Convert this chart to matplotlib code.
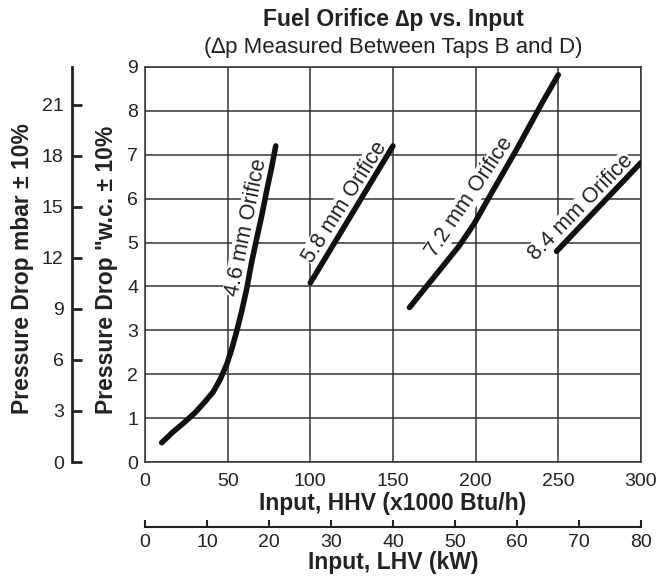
import matplotlib
matplotlib.use("Agg")
import matplotlib.pyplot as plt

plt.rcParams["font.family"] = ["Liberation Sans", "DejaVu Sans"]

# curves: input HHV (x1000 Btu/h) vs pressure drop ("w.c.)
orifice_46_x = [10.1, 17.1, 23.1, 30.2, 36.2, 41.3, 45.3, 49.3, 52.3, 55.4,
                58.4, 61.4, 64.4, 67.4, 70.5, 73.5, 76.5, 79.1]
orifice_46_y = [0.44, 0.69, 0.88, 1.12, 1.37, 1.60, 1.87, 2.21, 2.55, 2.97,
                3.42, 3.92, 4.53, 5.06, 5.59, 6.16, 6.69, 7.2]
orifice_58_x = [100, 150]
orifice_58_y = [4.08, 7.2]
orifice_72_x = [160, 175, 190, 199.3, 208.3, 224.5, 240.5, 250]
orifice_72_y = [3.52, 4.22, 4.92, 5.44, 6.04, 7.1, 8.2, 8.82]
orifice_84_x = [249, 300]
orifice_84_y = [4.8, 6.82]

labels = ["4.6 mm Orifice", "5.8 mm Orifice", "7.2 mm Orifice", "8.4 mm Orifice"]
label_pos = [(61.4, 5.35), (120.8, 5.92), (196.3, 6.04), (263.7, 5.80)]
label_rot = [78.5, 57.5, 56, 45.5]

hhv_ticks = [0, 50, 100, 150, 200, 250, 300]
wc_ticks = list(range(0, 10))
lhv_ticks = list(range(0, 90, 10))
mbar_ticks = list(range(0, 24, 3))
MBAR_PER_INWC = 2.58

TXT = "#222222"
TICK_FS = 14
LABEL_FS = 16.5

fig = plt.figure(figsize=(6.63, 5.81), dpi=100)
ax = fig.add_axes([0.2187, 0.2048, 0.748, 0.680])

grid_c = "#333333"
ax.set_xlim(0, 300)
ax.set_ylim(0, 9)
ax.set_xticks(hhv_ticks)
ax.set_yticks(wc_ticks)
ax.grid(True, color=grid_c, linewidth=1.1)
ax.set_axisbelow(True)
for sp in ax.spines.values():
    sp.set_color(grid_c)
    sp.set_linewidth(1.1)
ax.tick_params(length=0, labelsize=TICK_FS, colors=TXT)
ax.tick_params(axis="x", pad=8)
ax.tick_params(axis="y", pad=5)

for xs, ys in [(orifice_46_x, orifice_46_y), (orifice_58_x, orifice_58_y),
               (orifice_72_x, orifice_72_y), (orifice_84_x, orifice_84_y)]:
    ax.plot(xs, ys, color="#111111", linewidth=4.0, solid_capstyle="round",
            solid_joinstyle="round", zorder=3)

for text, (lx, ly), rot in zip(labels, label_pos, label_rot):
    ax.text(lx, ly, text, rotation=rot, ha="center", va="center", fontsize=15.5,
            color=TXT, rotation_mode="anchor", zorder=2,
            bbox=dict(facecolor="white", edgecolor="none", pad=0.3))

ax.set_xlabel("Input, HHV (x1000 Btu/h)", fontsize=LABEL_FS, fontweight="bold",
              color=TXT, labelpad=1)

# mbar axis on the far left
ax_mbar = fig.add_axes([0.1086, 0.2048, 0.001, 0.680])
ax_mbar.set_ylim(0, 9 * MBAR_PER_INWC)
ax_mbar.set_yticks(mbar_ticks)
ax_mbar.set_xticks([])
for name in ["top", "right", "bottom"]:
    ax_mbar.spines[name].set_visible(False)
ax_mbar.spines["left"].set_linewidth(2)
ax_mbar.spines["left"].set_color(TXT)
ax_mbar.patch.set_visible(False)
ax_mbar.tick_params(axis="y", direction="in", length=7, width=2, labelsize=TICK_FS,
                    colors=TXT, pad=6)

# LHV axis under the chart
ax_lhv = fig.add_axes([0.2187, 0.0929, 0.748, 0.001])
ax_lhv.set_xlim(0, 80)
ax_lhv.set_xticks(lhv_ticks)
ax_lhv.set_yticks([])
for name in ["top", "right", "left"]:
    ax_lhv.spines[name].set_visible(False)
ax_lhv.spines["bottom"].set_linewidth(1.5)
ax_lhv.spines["bottom"].set_color(TXT)
ax_lhv.patch.set_visible(False)
ax_lhv.tick_params(axis="x", direction="in", length=5, width=1.5, labelsize=TICK_FS,
                   colors=TXT, pad=5)
ax_lhv.set_xlabel("Input, LHV (kW)", fontsize=LABEL_FS, fontweight="bold",
                  color=TXT, labelpad=0)

fig.text(0.160, 0.536, 'Pressure Drop "w.c. \u00b1 10%', rotation=90, ha="center",
         va="center", fontsize=LABEL_FS, fontweight="bold", color=TXT)
fig.text(0.034, 0.538, "Pressure Drop mbar \u00b1 10%", rotation=90, ha="center",
         va="center", fontsize=LABEL_FS, fontweight="bold", color=TXT)

fig.text(0.593, 0.967, "Fuel Orifice \u2206p vs. Input", ha="center", va="center",
         fontsize=LABEL_FS, fontweight="bold", color=TXT)
fig.text(0.593, 0.919, "(\u2206p Measured Between Taps B and D)", ha="center",
         va="center", fontsize=16, color=TXT)

fig.savefig("out.png", dpi=100)
